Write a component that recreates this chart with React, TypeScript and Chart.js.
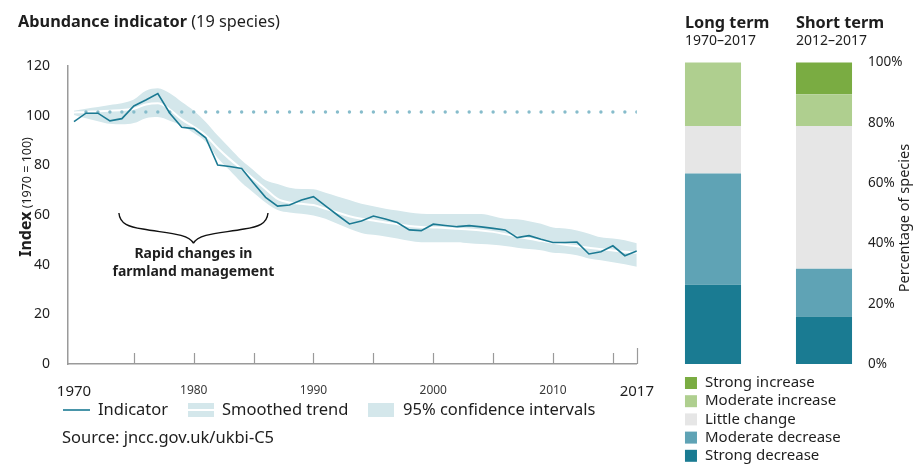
import React, { useEffect, useRef } from "react";
import { Chart, registerables } from "chart.js";

Chart.register(...registerables);

const FONT = '"Noto Sans", "Open Sans", sans-serif';
const TEXT = "#1e1e1e";

// ---------- Abundance indicator data ----------
const YEARS = [
  1970, 1971, 1972, 1973, 1974, 1975, 1976, 1977, 1978, 1979,
  1980, 1981, 1982, 1983, 1984, 1985, 1986, 1987, 1988, 1989,
  1990, 1991, 1992, 1993, 1994, 1995, 1996, 1997, 1998, 1999,
  2000, 2001, 2002, 2003, 2004, 2005, 2006, 2007, 2008, 2009,
  2010, 2011, 2012, 2013, 2014, 2015, 2016, 2017,
];
const INDICATOR = [
  97.6, 101.0, 101.0, 97.9, 98.8, 103.9, 106.3, 108.9, 101.0, 95.3,
  94.8, 91.1, 80.1, 79.5, 78.7, 72.8, 67.1, 63.6, 64.0, 66.0,
  67.4, 63.7, 60.0, 56.4, 57.6, 59.6, 58.4, 57.0, 54.0, 53.7,
  56.3, 55.8, 55.3, 55.7, 55.2, 54.6, 54.0, 50.9, 51.7, 50.2,
  48.9, 48.9, 49.1, 44.3, 45.2, 47.6, 43.6, 45.5,
];
const SMOOTHED = [
  101.3, 101.5, 101.8, 102.0, 102.3, 102.8, 104.5, 105.0, 102.5, 98.5,
  95.5, 92.0, 87.0, 82.5, 78.5, 74.5, 70.5, 66.5, 65.0, 64.5,
  64.0, 62.5, 61.0, 59.5, 58.5, 57.8, 57.0, 56.3, 55.6, 55.2,
  55.0, 54.8, 54.5, 54.2, 53.8, 53.2, 52.3, 51.3, 50.4, 49.6,
  48.8, 48.0, 47.4, 46.8, 46.2, 45.7, 45.2, 44.8,
];
const CI_UPPER = [
  102.0, 102.8, 103.5, 104.3, 105.0, 106.5, 110.0, 111.0, 109.0, 105.5,
  102.0, 97.5, 92.0, 87.0, 82.0, 78.0, 74.0, 72.5, 71.0, 70.5,
  70.4, 69.0, 67.5, 66.0, 64.5, 63.5, 62.5, 61.8, 61.0, 60.5,
  60.4, 60.4, 60.4, 60.4, 60.4, 59.5, 58.5, 58.3, 57.5, 56.5,
  55.0, 54.6, 53.8, 52.5, 51.0, 50.5, 49.8, 48.6,
];
const CI_LOWER = [
  100.3, 99.0, 97.8, 96.7, 96.5, 97.0, 99.0, 99.5, 98.0, 96.0,
  93.0, 89.5, 83.0, 78.0, 73.0, 69.0, 65.0, 62.0, 61.0, 60.5,
  59.8, 58.5, 56.5, 54.5, 52.8, 52.0, 51.3, 50.5, 49.6, 49.0,
  49.0, 49.0, 49.0, 48.6, 48.3, 48.0, 47.5, 46.8, 46.3, 45.8,
  44.8, 44.5, 43.8, 42.5, 41.8, 41.0, 40.2, 39.2,
];
const BASELINE = 101.5;
const X_LABEL_TICKS = [1970, 1980, 1990, 2000, 2010, 2017];
const X_MARK_TICKS = [1975, 1980, 1985, 1990, 1995, 2000, 2005, 2010, 2015, 2017];
const ANNOTATION_LINES = ["Rapid changes in", "farmland management"];
const BRACE_FROM = 1973.75;
const BRACE_TO = 1986.2;

// ---------- Species change data ----------
const BAR_GROUPS = ["Long term", "Short term"];
const BAR_PERIODS = ["1970–2017", "2012–2017"];
const CATEGORIES = ["Strong increase", "Moderate increase", "Little change", "Moderate decrease", "Strong decrease"];
const CATEGORY_COLORS = ["#7aac42", "#afcf8f", "#e6e6e6", "#5fa3b5", "#1a7b92"];
const LONG_TERM_COUNTS = [0, 4, 3, 7, 5];
const SHORT_TERM_COUNTS = [2, 2, 9, 3, 3];
const SPECIES_TOTAL = 19;

const LEGEND_FONT = `16.5px ${FONT}`;

function drawText(ctx: CanvasRenderingContext2D, s: string, x: number, y: number, font: string, color = TEXT, align: CanvasTextAlign = "left") {
  ctx.save();
  ctx.font = font;
  ctx.fillStyle = color;
  ctx.textAlign = align;
  ctx.textBaseline = "middle";
  ctx.fillText(s, x, y);
  ctx.restore();
}

const linePlugin = {
  id: "lineExtras",
  afterDraw(chart: any) {
    const ctx: CanvasRenderingContext2D = chart.ctx;
    const xs = chart.scales.x;
    const ys = chart.scales.y;
    const bottom = chart.chartArea.bottom;

    // inward tick marks
    ctx.save();
    ctx.strokeStyle = "#9a9a9a";
    ctx.lineWidth = 1.2;
    X_MARK_TICKS.forEach((v) => {
      const x = Math.round(xs.getPixelForValue(v)) + 0.5;
      const h = v === 2017 ? 16 : 11;
      ctx.beginPath();
      ctx.moveTo(x, bottom);
      ctx.lineTo(x, bottom - h);
      ctx.stroke();
    });
    ctx.restore();

    // brace annotation
    const x0 = xs.getPixelForValue(BRACE_FROM);
    const x1 = xs.getPixelForValue(BRACE_TO);
    const xm = (x0 + x1) / 2;
    const yt = ys.getPixelForValue(60.8);
    const yb = ys.getPixelForValue(48.6);
    ctx.save();
    ctx.strokeStyle = "#111";
    ctx.lineWidth = 1.4;
    ctx.beginPath();
    ctx.moveTo(x0, yt);
    ctx.bezierCurveTo(x0 + 1, yt + 11, x0 + 10, yt + 14, x0 + 24, yt + 16);
    ctx.bezierCurveTo(xm - 30, yt + 20, xm - 5, yt + 20, xm, yb);
    ctx.moveTo(x1, yt);
    ctx.bezierCurveTo(x1 - 1, yt + 11, x1 - 10, yt + 14, x1 - 24, yt + 16);
    ctx.bezierCurveTo(xm + 30, yt + 20, xm + 5, yt + 20, xm, yb);
    ctx.stroke();
    ctx.restore();
    drawText(ctx, ANNOTATION_LINES[0], xm, ys.getPixelForValue(44.3), `bold 14px ${FONT}`, TEXT, "center");
    drawText(ctx, ANNOTATION_LINES[1], xm, ys.getPixelForValue(37.1), `bold 14px ${FONT}`, TEXT, "center");

    // y axis title
    ctx.save();
    ctx.translate(26, 197);
    ctx.rotate(-Math.PI / 2);
    ctx.textBaseline = "middle";
    ctx.fillStyle = TEXT;
    ctx.font = `bold 16px ${FONT}`;
    const w1 = ctx.measureText("Index").width;
    ctx.font = `12.5px ${FONT}`;
    const w2 = ctx.measureText(" (1970 = 100)").width;
    const start = -(w1 + w2) / 2;
    ctx.font = `bold 16px ${FONT}`;
    ctx.fillText("Index", start, 0);
    ctx.font = `12.5px ${FONT}`;
    ctx.fillText(" (1970 = 100)", start + w1, 1);
    ctx.restore();

    // chart title
    ctx.save();
    ctx.textBaseline = "middle";
    ctx.fillStyle = TEXT;
    ctx.font = `bold 16.3px ${FONT}`;
    ctx.fillText("Abundance indicator", 18, 22);
    const tw = ctx.measureText("Abundance indicator").width;
    ctx.font = `16.3px ${FONT}`;
    ctx.fillText(" (19 species)", 18 + tw, 22);
    ctx.restore();

    // legend
    const ly = 410;
    ctx.save();
    ctx.strokeStyle = "#1b7a93";
    ctx.lineWidth = 1.6;
    ctx.beginPath();
    ctx.moveTo(63, ly);
    ctx.lineTo(90, ly);
    ctx.stroke();
    ctx.fillStyle = "#d4e7eb";
    ctx.fillRect(188, ly - 7, 26, 14);
    ctx.fillRect(368, ly - 7, 26, 14);
    ctx.strokeStyle = "#ffffff";
    ctx.lineWidth = 2;
    ctx.beginPath();
    ctx.moveTo(188, ly);
    ctx.lineTo(214, ly);
    ctx.stroke();
    ctx.restore();
    drawText(ctx, "Indicator", 98, ly, LEGEND_FONT);
    drawText(ctx, "Smoothed trend", 222, ly, LEGEND_FONT);
    drawText(ctx, "95% confidence intervals", 403, ly, LEGEND_FONT);
    drawText(ctx, "Source: jncc.gov.uk/ukbi-C5", 62, 438, LEGEND_FONT);
  },
};

const barPlugin = {
  id: "barExtras",
  afterDraw(chart: any) {
    const ctx: CanvasRenderingContext2D = chart.ctx;
    const meta = chart.getDatasetMeta(0);
    BAR_GROUPS.forEach((g, i) => {
      const el = meta.data[i];
      const left = el.x - el.width / 2;
      drawText(ctx, g, left, 23, `bold 16.3px ${FONT}`);
      drawText(ctx, BAR_PERIODS[i], left, 41, `14px ${FONT}`);
    });
    // legend
    const firstLeft = meta.data[0].x - meta.data[0].width / 2;
    CATEGORIES.forEach((c, i) => {
      const cy = 383 + i * 18.2;
      ctx.fillStyle = CATEGORY_COLORS[i];
      ctx.fillRect(firstLeft, cy - 6, 12, 12);
      drawText(ctx, c, firstLeft + 20, cy, `15px ${FONT}`);
    });
    // right axis title
    ctx.save();
    ctx.translate(265, 218);
    ctx.rotate(-Math.PI / 2);
    ctx.font = `14.5px ${FONT}`;
    ctx.fillStyle = TEXT;
    ctx.textAlign = "center";
    ctx.textBaseline = "middle";
    ctx.fillText("Percentage of species", 0, 0);
    ctx.restore();
  },
};

export default function App() {
  const lineRef = useRef<HTMLCanvasElement>(null);
  const barRef = useRef<HTMLCanvasElement>(null);

  useEffect(() => {
    const toPts = (vals: number[]) => YEARS.map((y, i) => ({ x: y, y: vals[i] }));
    const lineChart = new Chart(lineRef.current as HTMLCanvasElement, {
      type: "line",
      data: {
        datasets: [
          {
            label: "Indicator",
            data: toPts(INDICATOR),
            borderColor: "#1b7a93",
            borderWidth: 1.6,
            pointRadius: 0,
            tension: 0,
            fill: false,
            order: 0,
          },
          {
            label: "Baseline",
            data: YEARS.slice(1).map((y) => ({ x: y, y: BASELINE })),
            showLine: false,
            pointRadius: 1.7,
            pointBorderWidth: 0,
            pointBackgroundColor: "#86bccb",
            order: 1,
          },
          {
            label: "Smoothed trend",
            data: toPts(SMOOTHED),
            borderColor: "#ffffff",
            borderWidth: 2,
            pointRadius: 0,
            cubicInterpolationMode: "monotone",
            fill: false,
            order: 2,
          },
          {
            label: "CI lower",
            data: toPts(CI_LOWER),
            borderWidth: 0,
            borderColor: "rgba(0,0,0,0)",
            pointRadius: 0,
            cubicInterpolationMode: "monotone",
            fill: false,
            order: 3,
          },
          {
            label: "95% confidence intervals",
            data: toPts(CI_UPPER),
            borderWidth: 0,
            borderColor: "rgba(0,0,0,0)",
            backgroundColor: "#d4e7eb",
            pointRadius: 0,
            cubicInterpolationMode: "monotone",
            fill: "-1",
            order: 4,
          },
        ] as any,
      },
      options: {
        animation: false,
        responsive: false,
        devicePixelRatio: 1,
        layout: { autoPadding: false, padding: { left: 0, right: 23, top: 66, bottom: 64 } } as any,
        plugins: { legend: { display: false }, tooltip: { enabled: false } },
        scales: {
          x: {
            type: "linear",
            min: 1969.5,
            max: 2017,
            afterBuildTicks: (s: any) => {
              s.ticks = X_LABEL_TICKS.map((v) => ({ value: v }));
            },
            afterFit: (s: any) => {
              s.height = 36;
            },
            ticks: {
              autoSkip: false,
              maxRotation: 0,
              padding: 11,
              callback: (v: any) => String(v),
              font: (c: any) => ({ family: FONT, size: c.tick && (c.tick.value === 1970 || c.tick.value === 2017) ? 15 : 12 }),
              color: (c: any) => (c.tick && (c.tick.value === 1970 || c.tick.value === 2017) ? TEXT : "#3a3a3a"),
            },
            grid: { display: false },
            border: { display: true, color: "#9a9a9a", width: 1.5 },
          },
          y: {
            min: 0,
            max: 120,
            afterFit: (s: any) => {
              s.width = 68;
            },
            ticks: { stepSize: 20, padding: 10, font: { family: FONT, size: 14 }, color: TEXT },
            grid: { display: false },
            border: { display: true, color: "#9a9a9a", width: 1.5 },
          },
        },
      } as any,
      plugins: [linePlugin],
    });

    const pct = (arr: number[]) => arr.map((c) => (c / SPECIES_TOTAL) * 100);
    const longPct = pct(LONG_TERM_COUNTS);
    const shortPct = pct(SHORT_TERM_COUNTS);
    const stackOrder = [4, 3, 2, 1, 0];
    const barChart = new Chart(barRef.current as HTMLCanvasElement, {
      type: "bar",
      data: {
        labels: BAR_GROUPS,
        datasets: stackOrder.map((k) => ({
          label: CATEGORIES[k],
          data: [longPct[k], shortPct[k]],
          backgroundColor: CATEGORY_COLORS[k],
          borderWidth: 0,
          barPercentage: 0.505,
          categoryPercentage: 1,
          clip: false,
        })),
      },
      options: {
        animation: false,
        responsive: false,
        devicePixelRatio: 1,
        layout: { autoPadding: false, padding: { left: 73, right: 0, top: 62.5, bottom: 100 } } as any,
        plugins: { legend: { display: false }, tooltip: { enabled: false } },
        scales: {
          x: { stacked: true, display: false, offset: false, grid: { offset: false } },
          y: {
            stacked: true,
            position: "right",
            min: 0,
            max: 100,
            afterFit: (s: any) => {
              s.width = 89;
            },
            ticks: {
              stepSize: 20,
              padding: 36,
              callback: (v: any) => `${v}%`,
              font: { family: FONT, size: 13.5 },
              color: TEXT,
            },
            grid: { display: false },
            border: { display: false },
          },
        },
      } as any,
      plugins: [barPlugin],
    });

    return () => {
      lineChart.destroy();
      barChart.destroy();
    };
  }, []);

  return (
    <div style={{ position: "absolute", left: 0, top: 0, width: 913, height: 464, background: "#ffffff", overflow: "hidden" }}>
      <canvas ref={lineRef} width={665} height={464} style={{ position: "absolute", left: 0, top: 0, display: "block" }} />
      <canvas ref={barRef} width={273} height={464} style={{ position: "absolute", left: 640, top: 0, display: "block" }} />
    </div>
  );
}
